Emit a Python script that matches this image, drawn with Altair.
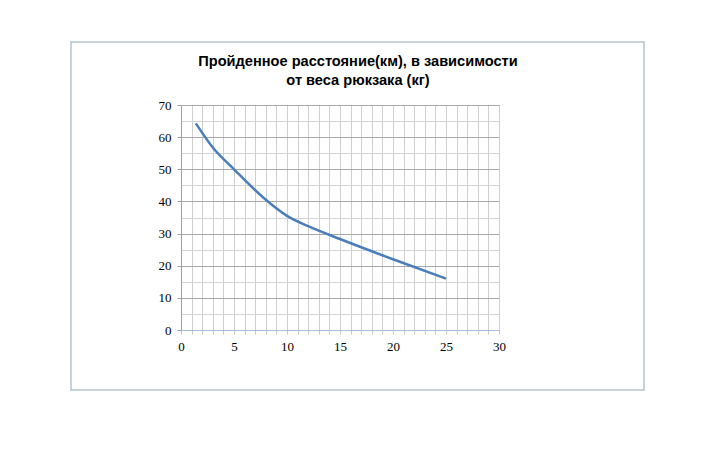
import altair as alt
import pandas as pd

weight = [1.4, 3, 5, 8, 10, 12, 15, 20, 25]
distance = [64.3, 56.8, 50.0, 40.5, 35.5, 32.3, 28.3, 22.0, 16.0]

x_ticks = list(range(0, 31))
y_ticks = list(range(0, 71, 5))
title_lines = ["Пройденное расстояние(км), в зависимости", "от веса рюкзака (кг)"]

df = pd.DataFrame({"w": weight, "d": distance})

line = alt.Chart(df).mark_line(color="#4a7ebb", strokeWidth=2.5, interpolate="monotone").encode(
    x=alt.X("w:Q", scale=alt.Scale(domain=[0, 30], nice=False),
            axis=alt.Axis(values=x_ticks, title=None,
                          labelExpr="datum.value % 5 === 0 ? datum.label : ''",
                          labelFont="Liberation Serif", labelFontSize=13, labelColor="#000",
                          labelPadding=6, labelFlush=False,
                          gridColor="#cfcfcf", gridWidth=1,
                          domainColor="#a9bde0", tickColor="#c8c8c8", tickSize=4)),
    y=alt.Y("d:Q", scale=alt.Scale(domain=[0, 70], nice=False),
            axis=alt.Axis(values=y_ticks, title=None,
                          labelExpr="datum.value % 10 === 0 ? datum.label : ''",
                          labelFont="Liberation Serif", labelFontSize=13, labelColor="#000",
                          labelPadding=6,
                          gridColor={"condition": {"test": "datum.value % 10 === 0", "value": "#a8a8a8"}, "value": "#d4d4d4"},
                          tickColor={"condition": {"test": "datum.value % 10 === 0", "value": "#a0a0a0"}, "value": "transparent"},
                          domainColor="#a0a0a0", tickSize=4)),
)

border = alt.Chart(pd.DataFrame({"a": [0]})).mark_rect(
    fill="transparent", stroke="#b7c3cf", strokeWidth=1.5, clip=False
).encode(
    x=alt.value(-110), x2=alt.value(463), y=alt.value(-63), y2=alt.value(285)
)

title1 = alt.Chart(pd.DataFrame({"t": [title_lines[0]]})).mark_text(
    font="Liberation Sans", fontSize=14.6, fontWeight="bold", color="#000",
    align="center", baseline="alphabetic"
).encode(text="t:N", x=alt.value(177), y=alt.value(-39))

title2 = alt.Chart(pd.DataFrame({"t": [title_lines[1]]})).mark_text(
    font="Liberation Sans", fontSize=14.6, fontWeight="bold", color="#000",
    align="center", baseline="alphabetic"
).encode(text="t:N", x=alt.value(177), y=alt.value(-20))

chart = alt.layer(border, line, title1, title2).properties(
    width=318, height=225,
    autosize="none",
    padding={"left": 173, "top": 97, "right": 200, "bottom": 100},
).configure_view(stroke=None).configure(background="white")

chart.save("out.html", embed_options={"renderer": "svg", "actions": False})
